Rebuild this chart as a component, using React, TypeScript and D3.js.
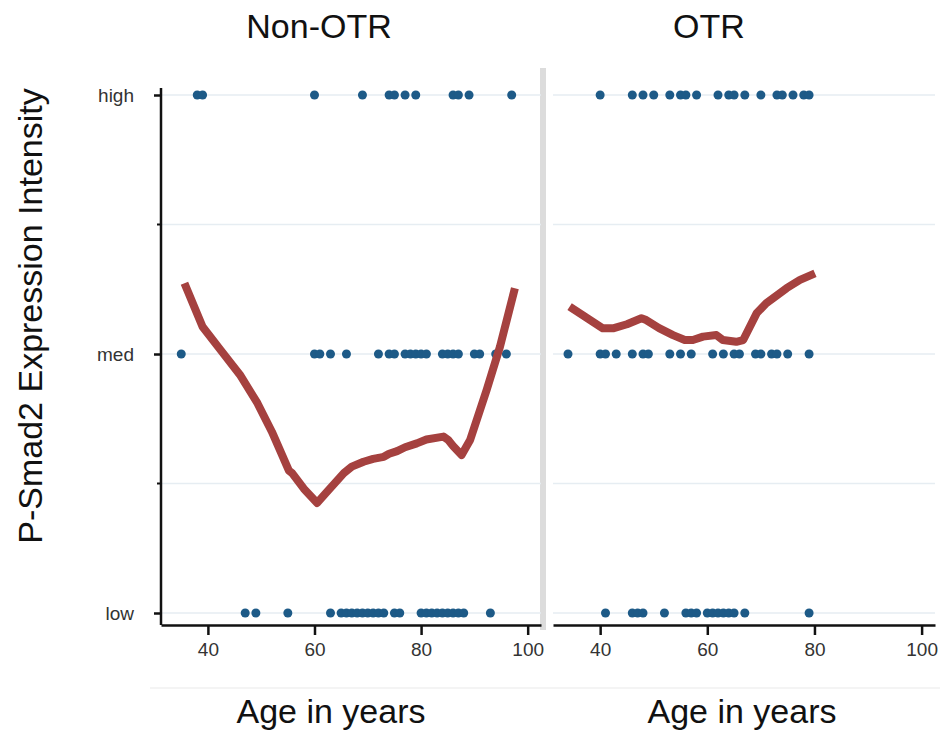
import React, { useRef, useEffect } from "react";
import * as d3 from "d3";

// observed ages per intensity level
const nonOtrHigh = [38, 39, 60, 69, 74, 75, 77, 79, 86, 87, 89, 97];
const nonOtrMed = [35, 60, 61, 63, 66, 72, 74, 75, 77, 78, 79, 80, 81, 84, 85, 86, 87, 90, 91, 94, 96];
const nonOtrLow = [47, 49, 55, 63, 65, 66, 67, 68, 69, 70, 71, 72, 73, 75, 76, 80, 81, 82, 83, 84, 85, 86, 87, 88, 93];

const otrHigh = [40, 46, 48, 50, 53, 55, 56, 58, 62, 64, 65, 67, 70, 73, 74, 76, 78, 79];
const otrMed = [34, 40, 41, 43, 46, 48, 49, 53, 55, 57, 61, 63, 65, 66, 69, 70, 72, 73, 75, 79];
const otrLow = [41, 46, 47, 48, 52, 56, 57, 58, 60, 61, 62, 63, 64, 65, 67, 79];

// smoothed trend (0 = low, 1 = med, 2 = high)
const nonOtrFitAge = [35.6, 39, 42.4, 46, 49.3, 52, 55.2, 55.8, 58, 60.5, 62, 65.5, 67, 69.2, 71, 73, 74, 75.5, 77, 79.2, 81, 84.2, 85.1, 86, 87.6, 89.2, 92.3, 94.8, 97.6];
const nonOtrFitVal = [1.273, 1.105, 1.015, 0.92, 0.81, 0.7, 0.55, 0.54, 0.48, 0.425, 0.46, 0.54, 0.565, 0.584, 0.595, 0.603, 0.615, 0.625, 0.64, 0.655, 0.67, 0.681, 0.668, 0.645, 0.61, 0.668, 0.861, 1.028, 1.254];
const otrFitAge = [34.3, 40.5, 42.4, 45, 47.7, 48.6, 51, 53.6, 55.8, 57.3, 59.2, 61.7, 62.9, 65.4, 66.7, 69.2, 71, 74.8, 77.3, 80.1];
const otrFitVal = [1.183, 1.099, 1.099, 1.115, 1.138, 1.131, 1.1, 1.073, 1.054, 1.054, 1.067, 1.073, 1.054, 1.047, 1.054, 1.157, 1.196, 1.254, 1.286, 1.311];

const levelLabels = ["low", "med", "high"];
const ageTicks = [40, 60, 80, 100];

const font = "'Liberation Sans', Arial, sans-serif";
const dotColor = "#1d5a87";
const lineColor = "#a5413f";

const App = () => {
  const svgRef = useRef(null);

  useEffect(() => {
    const svg = d3.select(svgRef.current);
    svg.selectAll("*").remove();

    const y = d3.scaleLinear().domain([0, 2]).range([613, 95]);

    const panels = [
      { title: "Non-OTR", titleX: 319, labelX: 331, range: [161, 541], high: nonOtrHigh, med: nonOtrMed, low: nonOtrLow, fa: nonOtrFitAge, fv: nonOtrFitVal },
      { title: "OTR", titleX: 709, labelX: 742, range: [553, 935], high: otrHigh, med: otrMed, low: otrLow, fa: otrFitAge, fv: otrFitVal },
    ];

    // faint band line under tick labels
    svg.append("line").attr("x1", 150).attr("x2", 940).attr("y1", 688).attr("y2", 688)
      .attr("stroke", "#f1f1f1").attr("stroke-width", 1.5);

    // panel separator
    svg.append("rect").attr("x", 540).attr("y", 68).attr("width", 6).attr("height", 562).attr("fill", "#dcdcdc");

    panels.forEach((p, i) => {
      const x = d3.scaleLinear().domain([31.2, 102.5]).range(p.range);
      const g = svg.append("g");

      // gridlines
      g.selectAll(".grid").data([0, 0.5, 1, 1.5, 2]).enter().append("line")
        .attr("x1", p.range[0]).attr("x2", p.range[1])
        .attr("y1", (d) => y(d)).attr("y2", (d) => y(d))
        .attr("stroke", "#e6edf2").attr("stroke-width", 1.5);

      // x axis
      const xa = g.append("g").attr("transform", "translate(0,625)")
        .call(d3.axisBottom(x).tickValues(ageTicks).tickSize(10).tickSizeOuter(0).tickPadding(8));
      xa.select(".domain").attr("stroke", "#111").attr("stroke-width", 2.5);
      xa.selectAll(".tick line").attr("stroke", "#111").attr("stroke-width", 2.5);
      xa.selectAll(".tick text").attr("font-family", font).attr("font-size", 19).attr("fill", "#333");

      // points
      const rows = [[p.low, 0], [p.med, 1], [p.high, 2]];
      rows.forEach(([ages, lvl]) => {
        g.selectAll(null).data(ages).enter().append("circle")
          .attr("cx", (d) => x(d)).attr("cy", y(lvl)).attr("r", 4.5).attr("fill", dotColor);
      });

      // trend line
      const pts = p.fa.map((a, k) => [a, p.fv[k]]);
      const line = d3.line().x((d) => x(d[0])).y((d) => y(d[1]));
      g.append("path").datum(pts).attr("d", line).attr("fill", "none")
        .attr("stroke", lineColor).attr("stroke-width", 8).attr("stroke-linejoin", "round");

      // titles
      svg.append("text").attr("x", p.titleX).attr("y", 38).attr("text-anchor", "middle")
        .attr("font-family", font).attr("font-size", 34).attr("fill", "#111").text(p.title);
      svg.append("text").attr("x", p.labelX).attr("y", 723).attr("text-anchor", "middle")
        .attr("font-family", font).attr("font-size", 34).attr("fill", "#111").text("Age in years");

      if (i === 0) {
        const ya = g.append("g").attr("transform", "translate(161,0)")
          .call(d3.axisLeft(y).tickValues([0, 1, 2]).tickSize(7).tickSizeOuter(0).tickPadding(20)
            .tickFormat((d) => levelLabels[d]));
        ya.select(".domain").attr("d", "M0,625V88").attr("stroke", "#111").attr("stroke-width", 2.5);
        ya.selectAll(".tick line").attr("stroke", "#111").attr("stroke-width", 2.5);
        ya.selectAll(".tick text").attr("font-family", font).attr("font-size", 19).attr("fill", "#333");
        // minor ticks
        g.selectAll(".minor").data([0.5, 1.5]).enter().append("line")
          .attr("x1", 157).attr("x2", 161).attr("y1", (d) => y(d)).attr("y2", (d) => y(d))
          .attr("stroke", "#111").attr("stroke-width", 2);
      }
    });

    svg.append("text").attr("transform", "translate(42,316) rotate(-90)").attr("text-anchor", "middle")
      .attr("font-family", font).attr("font-size", 34).attr("fill", "#111").text("P-Smad2 Expression Intensity");
  }, []);

  return (
    <svg ref={svgRef} width={942} height={734} style={{ position: "absolute", left: 0, top: 0, background: "#fff" }}></svg>
  );
};

export default App;
